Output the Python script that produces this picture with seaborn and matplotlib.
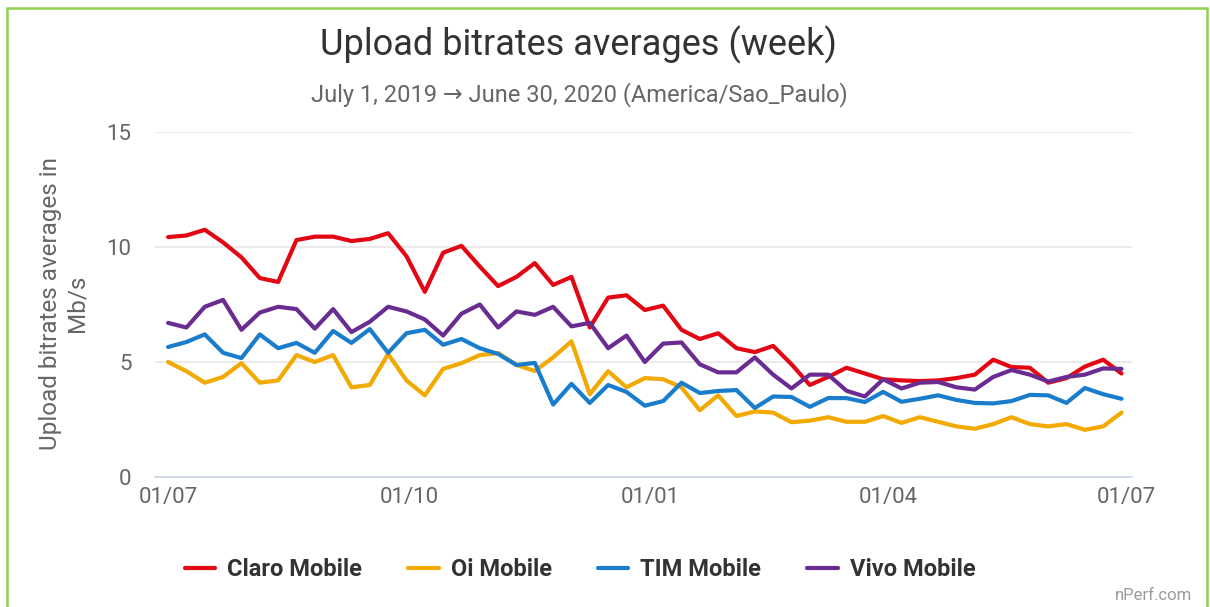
"""
Upload bitrates averages (week) - Brazilian mobile operators, nPerf style.
"""
import numpy as np
import pandas as pd

import matplotlib
matplotlib.use("Agg")
import matplotlib.pyplot as plt
import matplotlib.dates as mdates
from matplotlib.patches import Rectangle
import seaborn as sns

# -- Data (Mb/s, one value per week from 2019-07-01) --
weeks = pd.date_range("2019-07-01", periods=53, freq="7D")

claro = [10.43, 10.5, 10.75, 10.2, 9.55, 8.65, 8.48, 10.3, 10.45, 10.45,
         10.26, 10.35, 10.6, 9.6, 8.05, 9.75, 10.05, 9.15, 8.3, 8.7,
         9.3, 8.35, 8.7, 6.5, 7.8, 7.9, 7.26, 7.45, 6.4, 6.0,
         6.25, 5.6, 5.43, 5.7, 4.9, 4.0, 4.35, 4.75, 4.5, 4.25,
         4.2, 4.17, 4.2, 4.3, 4.45, 5.1, 4.78, 4.75, 4.1, 4.3,
         4.8, 5.1, 4.5]
oi = [5.0, 4.6, 4.1, 4.35, 4.95, 4.1, 4.2, 5.3, 5.0, 5.3,
      3.9, 4.0, 5.35, 4.2, 3.55, 4.7, 4.95, 5.3, 5.39, 4.87,
      4.61, 5.2, 5.9, 3.6, 4.6, 3.9, 4.3, 4.25, 3.9, 2.9,
      3.55, 2.65, 2.85, 2.8, 2.38, 2.45, 2.6, 2.4, 2.4, 2.65,
      2.35, 2.6, 2.4, 2.2, 2.1, 2.3, 2.6, 2.3, 2.2, 2.3,
      2.05, 2.2, 2.8]
tim = [5.65, 5.87, 6.2, 5.4, 5.17, 6.2, 5.6, 5.83, 5.4, 6.35,
       5.83, 6.43, 5.4, 6.25, 6.4, 5.75, 6.0, 5.6, 5.35, 4.87,
       4.96, 3.15, 4.05, 3.22, 4.0, 3.7, 3.1, 3.3, 4.1, 3.65,
       3.74, 3.78, 3.0, 3.5, 3.48, 3.05, 3.43, 3.43, 3.26, 3.7,
       3.27, 3.4, 3.55, 3.35, 3.22, 3.2, 3.3, 3.57, 3.55, 3.22,
       3.87, 3.6, 3.4]
vivo = [6.7, 6.5, 7.4, 7.7, 6.4, 7.15, 7.4, 7.3, 6.45, 7.3,
        6.3, 6.75, 7.4, 7.2, 6.85, 6.15, 7.1, 7.5, 6.5, 7.2,
        7.05, 7.4, 6.55, 6.7, 5.6, 6.15, 5.0, 5.8, 5.85, 4.9,
        4.55, 4.55, 5.2, 4.45, 3.85, 4.45, 4.45, 3.75, 3.5, 4.25,
        3.85, 4.1, 4.13, 3.9, 3.8, 4.35, 4.65, 4.45, 4.15, 4.35,
        4.45, 4.72, 4.7]

operators = ["Claro Mobile", "Oi Mobile", "TIM Mobile", "Vivo Mobile"]
colors = ["#e30613", "#f2a900", "#1a7dcc", "#6a2c91"]
y_ticks = [0, 5, 10, 15]
x_tick_dates = ["2019-07-01", "2019-10-01", "2020-01-01", "2020-04-01", "2020-07-01"]

df = pd.DataFrame({"week": weeks, "Claro Mobile": claro, "Oi Mobile": oi,
                   "TIM Mobile": tim, "Vivo Mobile": vivo})
long_df = df.melt(id_vars="week", var_name="operator", value_name="upload")

# -- Figure --
sns.set_theme(style="white")
plt.rcParams["font.family"] = ["Roboto", "DejaVu Sans"]

W, H = 1210, 607
fig = plt.figure(figsize=(W / 100, H / 100), dpi=100)
ax = fig.add_axes([155 / W, 1 - 477 / H, (1132 - 155) / W, (477 - 132) / H])

sns.lineplot(data=long_df, x="week", y="upload", hue="operator",
             hue_order=operators, palette=colors, linewidth=3.0,
             ax=ax, legend=False, solid_capstyle="round", solid_joinstyle="round")

ax.set_ylim(0, 15)
ax.set_yticks(y_ticks)
ax.set_xlim(pd.Timestamp("2019-06-26"), pd.Timestamp("2020-07-03"))
ax.set_xticks(pd.to_datetime(x_tick_dates))
ax.xaxis.set_major_formatter(mdates.DateFormatter("%d/%m"))

ax.yaxis.grid(True, color="#e6e6e6", linewidth=1.2)
ax.set_axisbelow(True)
for side in ("top", "right", "left"):
    ax.spines[side].set_visible(False)
ax.spines["bottom"].set_color("#ccd6eb")
ax.spines["bottom"].set_linewidth(1.2)

ax.tick_params(axis="x", length=13, width=1.2, color="#ccd6eb", pad=-6,
               labelsize=16, labelcolor="#666666")
ax.tick_params(axis="y", length=0, pad=17, labelsize=16, labelcolor="#666666")
ax.set_xlabel("")
ax.set_ylabel("")

# -- Texts --
fig.text(578 / W, 1 - 45 / H, "Upload bitrates averages (week)",
         ha="center", va="center", fontsize=26, color="#333333")
fig.text(579 / W, 1 - 95 / H, "July 1, 2019 \u2192 June 30, 2020 (America/Sao_Paulo)",
         ha="center", va="center", fontsize=17, color="#666666")
fig.text(64 / W, 1 - 303 / H, "Upload bitrates averages in\nMb/s",
         ha="center", va="center", rotation=90, fontsize=17.5,
         color="#666666", linespacing=1.2)
fig.text(1192 / W, 1 - 595 / H, "nPerf.com", ha="right", va="center",
         fontsize=12, color="#999999")

# -- Legend --
handles = [plt.Line2D([], [], color=c, linewidth=3.0) for c in colors]
leg = fig.legend(handles, operators, loc="center", bbox_to_anchor=(580 / W, 1 - 570 / H),
                 ncol=4, frameon=False, handlelength=1.3, handletextpad=0.5,
                 columnspacing=1.95, prop={"weight": "bold", "size": 17})
for t in leg.get_texts():
    t.set_color("#333333")

# -- Green frame --
fig.patches.append(Rectangle((7 / W, -0.05), (1207 - 7) / W, 1 - 8 / H + 0.05,
                             transform=fig.transFigure, fill=False,
                             edgecolor="#8fd14f", linewidth=1.8))

fig.savefig("out.png", dpi=100)
plt.close(fig)
